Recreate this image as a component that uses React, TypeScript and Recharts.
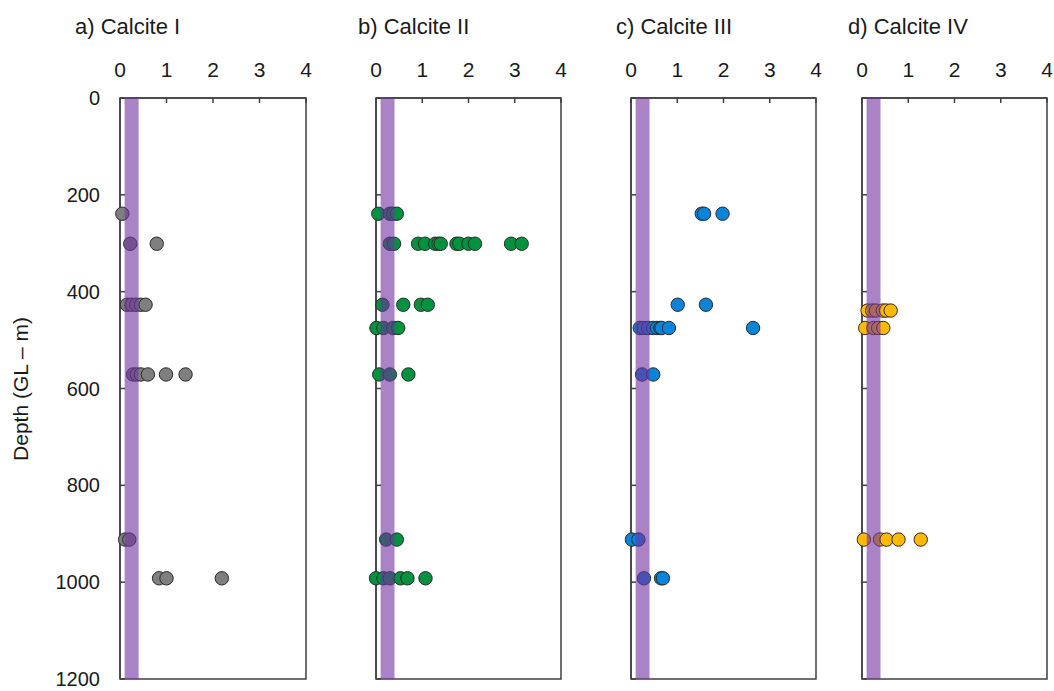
import React from 'react';
import { ScatterChart, Scatter, XAxis, YAxis, ReferenceArea } from 'recharts';

// ---- data (value, depth in m) ----
const calciteI = [
  { x: 0.05, y: 239 },
  { x: 0.22, y: 301 }, { x: 0.79, y: 301 },
  { x: 0.15, y: 427 }, { x: 0.25, y: 427 }, { x: 0.35, y: 427 }, { x: 0.45, y: 427 }, { x: 0.55, y: 427 },
  { x: 0.28, y: 571 }, { x: 0.36, y: 571 }, { x: 0.45, y: 571 }, { x: 0.6, y: 571 }, { x: 0.99, y: 571 }, { x: 1.41, y: 571 },
  { x: 0.11, y: 912 }, { x: 0.2, y: 912 },
  { x: 0.84, y: 992 }, { x: 1.0, y: 992 }, { x: 2.19, y: 992 },
];

const calciteII = [
  { x: 0.05, y: 239 }, { x: 0.3, y: 239 }, { x: 0.37, y: 239 }, { x: 0.45, y: 239 },
  { x: 0.3, y: 301 }, { x: 0.39, y: 301 }, { x: 0.91, y: 301 }, { x: 1.06, y: 301 }, { x: 1.28, y: 301 },
  { x: 1.35, y: 301 }, { x: 1.4, y: 301 }, { x: 1.74, y: 301 }, { x: 1.8, y: 301 }, { x: 2.0, y: 301 },
  { x: 2.14, y: 301 }, { x: 2.92, y: 301 }, { x: 3.15, y: 301 },
  { x: 0.14, y: 427 }, { x: 0.59, y: 427 }, { x: 0.97, y: 427 }, { x: 1.12, y: 427 },
  { x: 0.01, y: 475 }, { x: 0.16, y: 475 }, { x: 0.37, y: 475 }, { x: 0.48, y: 475 },
  { x: 0.07, y: 571 }, { x: 0.3, y: 571 }, { x: 0.7, y: 571 },
  { x: 0.22, y: 912 }, { x: 0.45, y: 912 },
  { x: 0.0, y: 992 }, { x: 0.16, y: 992 }, { x: 0.3, y: 992 }, { x: 0.53, y: 992 }, { x: 0.68, y: 992 }, { x: 1.07, y: 992 },
];

const calciteIII = [
  { x: 1.53, y: 239 }, { x: 1.58, y: 239 }, { x: 1.98, y: 239 },
  { x: 1.01, y: 427 }, { x: 1.62, y: 427 },
  { x: 0.19, y: 475 }, { x: 0.27, y: 475 }, { x: 0.37, y: 475 }, { x: 0.48, y: 475 }, { x: 0.56, y: 475 },
  { x: 0.63, y: 475 }, { x: 0.66, y: 475 }, { x: 0.82, y: 475 }, { x: 2.64, y: 475 },
  { x: 0.24, y: 571 }, { x: 0.48, y: 571 },
  { x: 0.02, y: 912 }, { x: 0.16, y: 912 },
  { x: 0.28, y: 992 }, { x: 0.65, y: 992 }, { x: 0.69, y: 992 },
];

const calciteIV = [
  { x: 0.12, y: 439 }, { x: 0.22, y: 439 }, { x: 0.3, y: 439 }, { x: 0.45, y: 439 }, { x: 0.52, y: 439 }, { x: 0.62, y: 439 },
  { x: 0.07, y: 475 }, { x: 0.25, y: 475 }, { x: 0.35, y: 475 }, { x: 0.46, y: 475 },
  { x: 0.04, y: 912 }, { x: 0.39, y: 912 }, { x: 0.53, y: 912 }, { x: 0.79, y: 912 }, { x: 1.27, y: 912 },
];

const xTicks = [0, 1, 2, 3, 4];
const yTicks = [0, 200, 400, 600, 800, 1000, 1200];
const band = { from: 0.1, to: 0.4 };
const titles = ['a) Calcite I', 'b) Calcite II', 'c) Calcite III', 'd) Calcite IV'];
const yLabel = 'Depth (GL – m)';

// ---- layout ----
const H = 691;
const FONT = '"Liberation Sans", Arial, Helvetica, sans-serif';
const panels = [
  { data: calciteI, color: '#7f7f7f', plotLeft: 120, plotWidth: 186, yw: 120, mr: 14, labels: true, titleX: 75 },
  { data: calciteII, color: '#00923f', plotLeft: 376, plotWidth: 185, yw: 10, mr: 14, labels: false, titleX: 358 },
  { data: calciteIII, color: '#0a84d8', plotLeft: 631, plotWidth: 185, yw: 10, mr: 14, labels: false, titleX: 616 },
  { data: calciteIV, color: '#ffba00', plotLeft: 862, plotWidth: 185, yw: 10, mr: 7, labels: false, titleX: 848 },
];

const AXIS = '#404040';

function Panel({ p }: { p: any }) {
  const cw = p.yw + p.plotWidth + p.mr;
  const left = p.plotLeft - p.yw;
  const dot = (props: any) => (
    <circle cx={props.cx} cy={props.cy} r={6.7} fill={p.color} stroke="#2a2a2a" strokeWidth={1} />
  );
  return (
    <div style={{ position: 'absolute', left, top: 0 }}>
      <ScatterChart width={cw} height={H} margin={{ top: 58, right: p.mr, bottom: 12, left: 0 }}>
        <XAxis
          type="number"
          dataKey="x"
          orientation="top"
          domain={[0, 4]}
          ticks={xTicks}
          interval={0}
          height={40}
          tickSize={-5}
          tickMargin={26}
          axisLine={{ stroke: AXIS, strokeWidth: 1.5 }}
          tickLine={{ stroke: AXIS, strokeWidth: 1.5 }}
          tick={{ fontSize: 21, fill: '#1a1a1a', fontFamily: FONT }}
        />
        <YAxis
          type="number"
          dataKey="y"
          domain={[0, 1200]}
          reversed
          ticks={yTicks}
          interval={0}
          width={p.yw}
          tickSize={-5}
          tickMargin={25}
          tickFormatter={(v: number) => (p.labels ? String(v) : '')}
          axisLine={{ stroke: AXIS, strokeWidth: 1.5 }}
          tickLine={{ stroke: AXIS, strokeWidth: 1.5 }}
          tick={{ fontSize: 20, fill: '#1a1a1a', fontFamily: FONT }}
        />
        <ReferenceArea x1={0} x2={4} y1={0} y2={1200} fill="none" stroke={AXIS} strokeWidth={1.5} ifOverflow="visible" />
        <Scatter data={p.data} isAnimationActive={false} shape={dot} />
        <ReferenceArea
          x1={band.from}
          x2={band.to}
          y1={0}
          y2={1200}
          fill="#7030a0"
          fillOpacity={0.6}
          stroke="none"
          zIndex={700}
        />
      </ScatterChart>
    </div>
  );
}

export default function App() {
  return (
    <div style={{ position: 'absolute', left: 0, top: 0, width: 1054, height: H, background: '#fff', fontFamily: FONT }}>
      {panels.map((p, i) => (
        <Panel key={i} p={p} />
      ))}
      <svg width={1054} height={H} style={{ position: 'absolute', left: 0, top: 0, pointerEvents: 'none' }}>
        {panels.map((p, i) => (
          <text key={i} x={p.titleX} y={34} fontSize={22} fill="#1a1a1a" fontFamily={FONT}>
            {titles[i]}
          </text>
        ))}
        <text
          x={22}
          y={389}
          fontSize={21}
          fill="#1a1a1a"
          fontFamily={FONT}
          textAnchor="middle"
          dominantBaseline="middle"
          transform="rotate(-90 22 389)"
        >
          {yLabel}
        </text>
      </svg>
    </div>
  );
}
